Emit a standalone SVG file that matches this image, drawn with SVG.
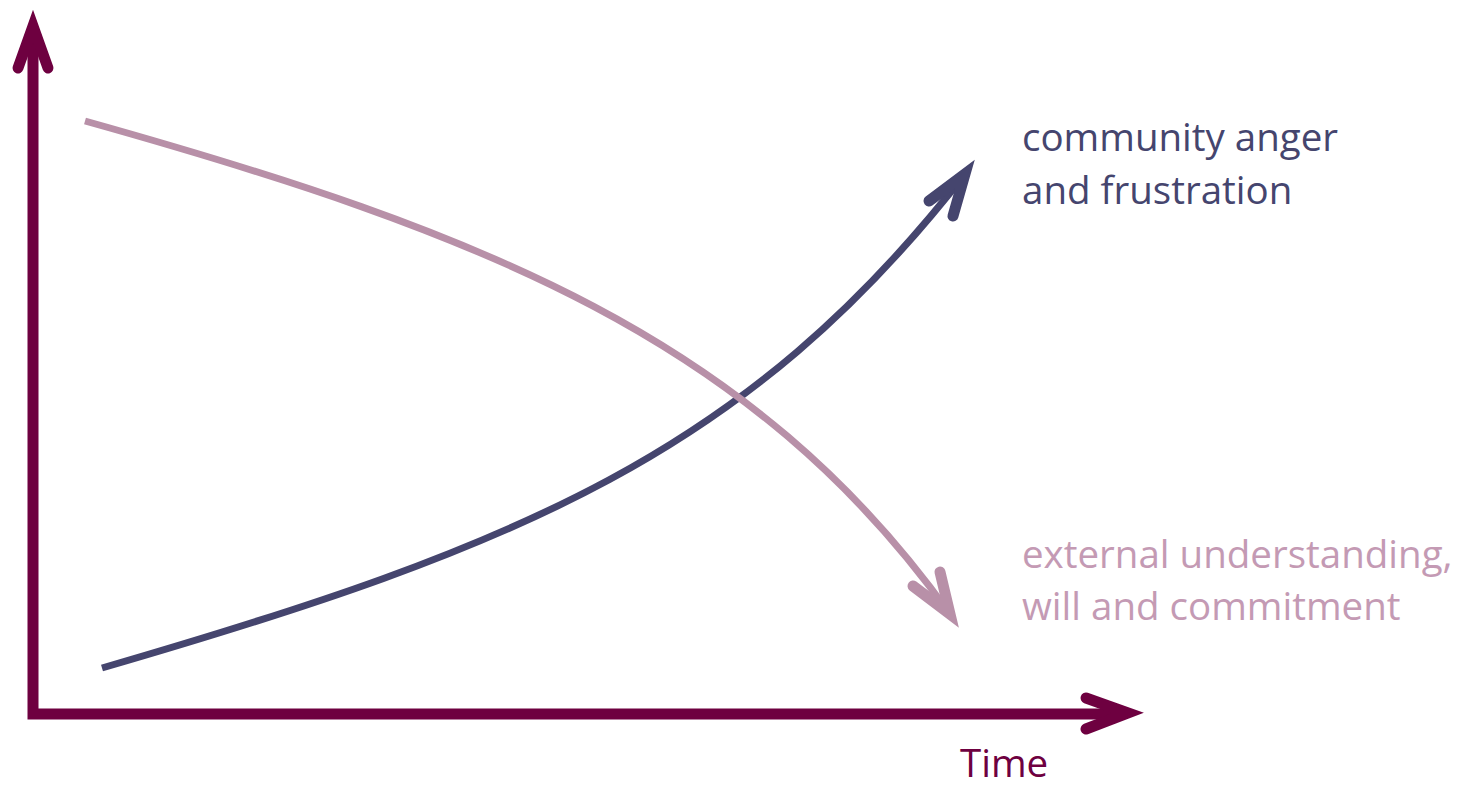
<svg xmlns="http://www.w3.org/2000/svg" width="1473" height="787" viewBox="0 0 1473 787">
<style>
.axis{fill:none;stroke:#6e0040;stroke-width:11;stroke-linecap:butt;stroke-linejoin:miter}
.head{fill:none;stroke-width:11;stroke-linecap:round;stroke-linejoin:miter}
.anger{fill:none;stroke:#45456e;stroke-width:7}
.ext{fill:none;stroke:#b890a8;stroke-width:7}
.lbl{font-family:"Open Sans","Liberation Sans",sans-serif;font-size:38.5px}
</style>
<rect width="1473" height="787" fill="#fff"/>
<g id="axes">
<path class="axis" d="M33,35 V714 H1125"/>
<path class="head" stroke="#6e0040" d="M18,68 L33,26 L48,68"/>
<path class="head" stroke="#6e0040" d="M1086,698 L1128,713 L1086,729"/>
</g>
<g id="connectors">
<path class="anger" d="M102,668 C522,546 748,452 965,174"/>
<path class="head" stroke="#45456e" stroke-width="9" d="M929,201 L965,174 L953,216"/>
<path class="ext" d="M85,121 C485,233 753,339 950,614"/>
<path class="head" stroke="#b890a8" stroke-width="9" d="M913,586 L950,614 L940,572"/>
</g>
<g id="label-anger"><text class="lbl" fill="#45456e" x="1022" y="151">community anger</text><text class="lbl" fill="#45456e" x="1022" y="204">and frustration</text></g>
<g id="label-ext"><text class="lbl" fill="#c49ab4" x="1022" y="568">external understanding,</text><text class="lbl" fill="#c49ab4" x="1022" y="620">will and commitment</text></g>
<g id="label-time"><text class="lbl" fill="#6e0040" x="960" y="777">Time</text></g>
</svg>
